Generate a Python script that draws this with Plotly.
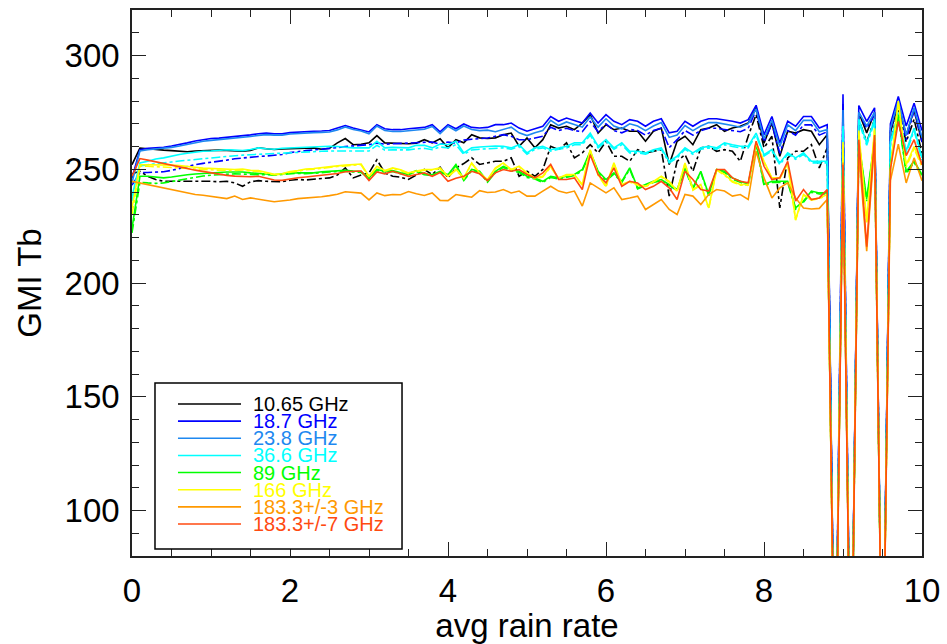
import numpy as np
import plotly.graph_objects as go

# bin centres of the average rain rate
rain_rate = np.round(np.arange(0, 101) * 0.1, 1)

# GMI brightness temperatures (K) per rain-rate bin; 0 marks empty bins
tb_10v = [252, 259.3, 259.0, 258.6, 258.4, 258.2, 257.8, 257.7, 258.0, 258.2, 258.5, 258.4, 258.3, 258.2, 257.9, 258.3,
          259.4, 259.0, 258.7, 258.9, 259.1, 259.0, 259.3, 259.4, 258.8, 259.2, 261.6, 263.5, 260.8, 261.0, 261.6, 264.8,
          261.6, 261.5, 261.6, 261.2, 261.5, 263.0, 261.6, 263.4, 259.4, 263.0, 261.6, 265.2, 263.8, 263.5, 263.8,
          265.2, 265.9, 260.1, 263.7, 259.4, 263.0, 269.6, 268.1, 268.9, 267.4, 270.3, 274.0, 265.9, 269.6, 267.4, 268.1,
          266.7, 266.7, 262.3, 266.7, 268.1, 252.1, 262.3, 264.5, 260.8, 267.4, 268.1, 269.6, 266.7, 268.1, 268.9, 270.3,
          276.9, 261.5, 270.3, 255.7, 266.7, 265.9, 267.4, 266.7, 260.8, 265.2,
          0, 270, 0, 275, 266, 275, 0, 266, 279, 265, 276, 262]
tb_10h = [248, 249.1, 246.9, 245.5, 244.7, 244.7, 244.9, 244.9, 244.7, 244.7, 244.7, 244.5, 244.7, 244.0, 242.5, 244.5,
          245.0, 244.7, 244.5, 244.5, 245.2, 245.5, 245.3, 245.5, 245.8, 246.2, 247.5, 250.6, 246.2, 247.5, 248.4, 254.2,
          248.4, 246.9, 246.5, 245.5, 247.5, 249.9, 247.7, 250.9, 246.2, 250.6, 252.5, 255.0, 252.1, 252.8, 253.5,
          253.5, 255.0, 246.9, 249.1, 246.9, 249.9, 260.1, 258.6, 261.6, 255.0, 257.2, 260.8, 257.2, 262.3, 255.7, 255.7,
          253.5, 258.6, 257.2, 257.9, 258.6, 238.2, 253.5, 256.4, 249.1, 259.4, 260.1, 257.9, 258.6, 257.9, 253.5, 264.5,
          274.0, 259.4, 264.5, 233.0, 255.0, 257.9, 257.9, 260.8, 250.6, 259.4,
          0, 266, 0, 272, 262, 272, 0, 262, 276, 262, 272, 257]
tb_19v = [246, 258.6, 259.2, 259.4, 259.7, 260.2, 260.8, 261.6, 262.4, 263.0, 263.5, 263.7, 264.0, 264.3, 264.6, 265.1,
          265.6, 265.9, 265.6, 265.6, 266.1, 266.4, 266.5, 266.7, 266.8, 267.0, 268.1, 269.2, 268.1, 267.4, 266.4, 269.6,
          267.8, 267.4, 267.4, 267.8, 268.1, 268.4, 269.6, 266.4, 269.6, 267.8, 269.9, 268.4, 268.1, 268.4, 269.6,
          269.6, 270.3, 268.1, 266.7, 267.8, 268.9, 273.2, 271.1, 272.5, 271.4, 270.3, 274.7, 270.3, 274.0, 271.1, 269.6,
          271.8, 271.1, 268.9, 271.1, 272.2, 266.0, 266.7, 271.1, 268.9, 271.1, 272.2, 272.2, 271.8, 271.1, 270.3, 271.8,
          278.1, 265.2, 273.2, 261.6, 271.1, 268.9, 273.2, 273.2, 268.1, 269.6,
          0, 283, 0, 278, 271, 277, 0, 270, 282, 269, 279, 267]
tb_19h = [243, 248.5, 248.6, 248.6, 248.9, 249.5, 250.4, 251.2, 252.0, 252.6, 253.0, 253.4, 254.0, 254.6, 255.0, 255.3,
          255.6, 255.8, 256.0, 256.5, 257.3, 257.9, 258.2, 258.5, 258.8, 259.0, 259.5, 260.0, 260.2, 260.5, 260.8, 261.5,
          261.0, 261.2, 261.3, 261.5, 261.5, 261.8, 262.0, 261.0, 262.0, 261.5, 262.8, 263.2, 263.5, 263.7, 264.5,
          265.2, 264.5, 263.0, 263.0, 263.7, 264.5, 268.5, 267.0, 268.0, 267.0, 266.5, 271.0, 266.5, 270.0, 267.0, 266.0,
          267.5, 267.0, 265.0, 267.0, 268.0, 259.5, 263.0, 267.0, 265.0, 267.0, 268.0, 268.0, 267.5, 267.0, 266.5, 268.0,
          276.0, 262.0, 270.0, 257.0, 267.0, 265.0, 269.5, 269.5, 265.0, 266.5,
          0, 279, 0, 275, 268, 274, 0, 267, 280, 263, 276, 262]
tb_23v = [244, 258.0, 258.6, 258.9, 259.2, 259.6, 260.2, 261.0, 261.7, 262.3, 262.7, 263.0, 263.3, 263.6, 264.0, 264.4,
          264.9, 265.2, 265.0, 265.0, 265.5, 265.8, 265.9, 266.1, 266.2, 266.4, 267.3, 268.6, 267.5, 266.8, 265.6, 269.0,
          267.0, 266.6, 266.6, 267.0, 267.3, 267.6, 268.8, 265.6, 268.9, 266.9, 269.0, 267.5, 267.0, 267.2, 266.5,
          267.5, 268.5, 266.0, 264.8, 266.0, 267.0, 271.5, 269.2, 270.8, 269.5, 268.5, 273.0, 268.5, 272.2, 269.0, 267.8,
          270.0, 269.0, 267.0, 269.0, 270.5, 264.0, 265.0, 269.2, 267.0, 269.0, 270.5, 270.5, 270.0, 269.2, 268.5, 270.0,
          276.5, 263.5, 271.5, 260.0, 269.5, 267.0, 271.5, 271.5, 266.5, 267.5,
          0, 276, 0, 275, 269, 275, 0, 268, 280, 265, 277, 264]
tb_37v = [238, 252.8, 253.5, 254.5, 255.0, 255.8, 256.5, 257.0, 257.6, 257.9, 258.0, 258.3, 258.6, 258.4, 258.2, 258.7,
          259.4, 259.0, 258.8, 259.2, 259.4, 259.6, 259.6, 259.7, 260.0, 260.1, 260.0, 259.6, 259.4, 259.4, 259.4, 262.3,
          259.4, 259.6, 259.4, 259.4, 260.5, 260.5, 259.4, 261.1, 260.8, 262.3, 257.2, 259.4, 259.8, 260.1, 260.2,
          260.1, 259.4, 260.8, 257.2, 259.4, 260.1, 258.6, 259.4, 260.1, 261.6, 261.6, 265.9, 260.1, 263.0, 259.4, 261.6,
          257.9, 257.9, 257.2, 258.6, 259.4, 253.5, 255.7, 259.4, 257.2, 259.4, 260.1, 259.4, 261.6, 260.8, 260.1, 260.1,
          265.9, 256.4, 258.6, 252.8, 257.2, 255.0, 257.2, 253.5, 253.5, 253.5,
          0, 269, 0, 272, 261.5, 272, 0, 262, 275, 258, 268, 255]
tb_37h = [236, 251.5, 252.0, 252.5, 252.8, 253.2, 253.6, 254.0, 254.3, 254.6, 255.0, 255.3, 255.6, 256.0, 256.2, 256.4,
          256.6, 256.8, 257.0, 257.2, 257.4, 257.6, 257.7, 257.8, 257.9, 258.0, 258.0, 258.2, 258.3, 258.3, 258.0, 260.5,
          258.4, 258.5, 258.4, 258.5, 259.0, 259.2, 258.6, 259.8, 259.4, 260.8, 256.5, 258.5, 258.8, 259.0, 259.2,
          259.4, 258.8, 260.0, 256.6, 258.8, 259.4, 258.0, 258.8, 259.4, 260.8, 260.8, 265.0, 259.4, 262.2, 258.8, 260.8,
          257.2, 257.2, 256.6, 258.0, 258.8, 252.8, 255.0, 258.8, 256.6, 258.8, 259.4, 258.8, 260.8, 260.0, 259.4, 259.4,
          265.0, 255.8, 258.0, 252.0, 256.6, 254.4, 256.6, 252.8, 252.8, 252.8,
          0, 268, 0, 271, 260.5, 271, 0, 261, 274, 257, 267, 254]
tb_89v = [224, 246.9, 246.9, 246.5, 246.2, 246.6, 247.2, 247.6, 247.9, 248.2, 248.4, 248.7, 248.8, 248.8, 248.8, 248.4,
          248.0, 247.9, 247.6, 248.0, 248.4, 248.4, 248.4, 248.4, 248.9, 249.2, 249.4, 249.5, 249.2, 249.0, 246.2, 249.9,
          249.1, 249.4, 248.4, 248.0, 249.4, 248.0, 247.6, 249.1, 247.6, 252.1, 245.5, 249.9, 249.1, 244.7, 249.1,
          251.3, 249.9, 249.1, 246.9, 246.2, 244.7, 246.9, 246.2, 246.9, 247.7, 249.9, 257.9, 249.1, 245.5, 248.4, 244.7,
          250.6, 241.8, 243.3, 244.7, 245.5, 243.3, 241.1, 250.6, 241.8, 249.1, 238.9, 249.9, 249.1, 246.2, 244.7, 243.3,
          261.6, 243.3, 244.7, 244.7, 244.7, 233.0, 236.0, 240.4, 239.6, 239.6,
          0, 257, 0, 262, 237, 263, 0, 252, 274, 249, 253.5, 247.7]
tb_89h = [222, 244.3, 244.0, 243.8, 244.0, 244.6, 245.3, 246.0, 246.5, 247.0, 247.4, 247.7, 247.9, 248.0, 247.9, 247.6,
          247.6, 247.6, 247.4, 247.7, 248.0, 248.2, 248.0, 248.1, 248.5, 248.8, 249.0, 249.1, 248.8, 248.6, 245.9, 249.5,
          248.7, 249.0, 248.0, 247.6, 249.0, 247.6, 247.2, 248.7, 247.2, 251.6, 245.0, 249.4, 248.6, 244.3, 248.6,
          250.8, 249.4, 248.6, 246.4, 245.7, 244.2, 246.4, 245.7, 246.4, 247.2, 249.4, 257.3, 248.6, 245.0, 247.9, 244.2,
          250.0, 241.3, 242.8, 244.2, 245.0, 242.8, 240.6, 250.0, 241.3, 248.6, 238.4, 249.4, 248.6, 245.7, 244.2, 242.8,
          261.0, 242.8, 244.2, 244.2, 244.2, 232.5, 235.5, 239.9, 239.1, 239.1,
          0, 256, 0, 261, 236, 262, 0, 251, 273, 248, 253, 247]
tb_166v = [233, 252.0, 252.0, 252.0, 252.0, 251.8, 251.6, 251.1, 250.9, 250.5, 250.3, 250.0, 249.8, 249.9, 250.1, 249.5,
           249.4, 248.6, 247.8, 248.0, 249.0, 249.4, 250.1, 250.3, 250.8, 251.1, 251.5, 251.8, 252.0, 252.3, 246.9, 251.3,
           249.5, 250.6, 249.8, 248.4, 249.2, 249.9, 249.9, 250.6, 246.9, 249.9, 246.2, 252.8, 248.4, 245.5, 250.6,
           252.8, 249.9, 251.3, 248.4, 246.2, 246.9, 251.3, 246.2, 247.7, 247.7, 243.3, 258.6, 247.7, 242.5, 252.8, 243.3,
           244.7, 243.3, 242.5, 244.7, 246.9, 244.7, 240.4, 252.8, 241.1, 243.3, 233.0, 249.9, 247.7, 244.7, 243.3, 243.3,
           261.6, 253.5, 246.2, 246.2, 252.8, 227.9, 238.9, 236.7, 237.4, 238.9,
           0, 262, 0, 267, 227, 268, 0, 250, 280, 252, 260, 252]
tb_166h = [230, 251.3, 251.3, 251.2, 251.0, 250.8, 250.6, 250.3, 250.1, 249.9, 249.7, 249.5, 249.4, 249.5, 249.7, 249.2,
           249.0, 248.3, 247.6, 247.8, 248.7, 249.1, 249.8, 250.0, 250.5, 250.8, 251.2, 251.5, 251.7, 252.0, 246.6, 251.0,
           249.2, 250.3, 249.5, 248.1, 248.9, 249.6, 249.6, 250.3, 246.6, 249.6, 245.9, 252.5, 248.1, 245.2, 250.3,
           252.5, 249.6, 251.0, 248.1, 245.9, 246.6, 251.0, 245.9, 247.4, 247.4, 243.0, 258.3, 247.4, 242.2, 252.5, 243.0,
           244.4, 243.0, 242.2, 244.4, 246.6, 244.4, 240.1, 252.5, 240.8, 243.0, 232.7, 249.6, 247.4, 244.4, 243.0, 243.0,
           261.3, 253.2, 245.9, 245.9, 252.5, 227.6, 238.6, 236.4, 237.1, 238.6,
           0, 261, 0, 266, 226, 267, 0, 249, 279, 251, 259, 251]
tb_183_3 = [244.7, 244.0, 243.3, 242.5, 241.8, 241.1, 240.4, 239.6, 238.9, 238.6, 238.2, 237.7, 237.1, 238.2, 236.7, 237.4,
            236.7, 236.3, 235.7, 236.0, 236.5, 237.1, 237.3, 237.4, 237.9, 238.4, 239.0, 240.1, 239.8, 239.5, 236.5, 239.6,
            238.4, 238.9, 238.8, 240.2, 239.2, 238.5, 239.6, 236.3, 236.2, 238.9, 238.3, 237.7, 240.6, 239.8, 240.0,
            241.1, 239.6, 240.4, 238.2, 238.2, 240.4, 242.5, 240.4, 239.6, 240.4, 233.8, 244.0, 241.8, 239.6, 241.8, 236.7,
            237.4, 238.2, 232.3, 234.5, 236.7, 232.3, 230.1, 238.9, 238.2, 234.5, 238.9, 241.1, 240.4, 238.2, 238.9, 236.7,
            257.9, 246.2, 237.4, 241.8, 244.0, 237.4, 233.0, 232.5, 232.8, 236.7,
            0, 253, 0, 258, 214, 262, 0, 245, 261, 244, 255, 245]
tb_183_7 = [247, 254.7, 254.0, 253.2, 252.5, 251.7, 251.0, 250.3, 249.6, 249.0, 248.4, 247.9, 247.3, 247.0, 246.7, 246.7,
            246.9, 246.0, 245.3, 245.1, 245.8, 246.3, 246.6, 246.9, 247.3, 247.7, 248.1, 248.9, 249.1, 249.2, 245.0, 248.8,
            248.0, 249.1, 248.0, 246.9, 247.7, 248.4, 246.9, 248.6, 244.7, 246.0, 246.9, 249.1, 248.0, 245.0, 248.4,
            249.9, 249.1, 249.9, 247.7, 246.2, 248.4, 252.1, 245.5, 245.5, 246.2, 241.1, 256.4, 247.7, 244.0, 250.6, 242.5,
            244.7, 244.0, 241.1, 242.5, 244.7, 241.8, 236.7, 249.1, 245.5, 241.1, 240.4, 249.9, 249.9, 246.2, 244.7, 244.0,
            262.3, 251.3, 245.5, 246.2, 253.5, 236.0, 241.1, 236.7, 237.4, 241.1,
            0, 252, 0, 263, 216, 265, 0, 250, 271, 256, 263, 252]

channel_names = ["10.65 GHz", "18.7 GHz", "23.8 GHz", "36.6 GHz", "89 GHz", "166 GHz",
                 "183.3+/-3 GHz", "183.3+/-7 GHz"]
channel_colors = ["#000000", "#0000FF", "#1E88F0", "#00FFFF", "#00FF00", "#FFFF00", "#FF9900", "#FF4A10"]
v_series = [tb_10v, tb_19v, tb_23v, tb_37v, tb_89v, tb_166v, tb_183_3, tb_183_7]
h_series = [tb_10h, tb_19h, None, tb_37h, tb_89h, tb_166h, None, None]

FONT = "Liberation Sans"

fig = go.Figure()
for name, color, tv, th in zip(channel_names, channel_colors, v_series, h_series):
    fig.add_trace(go.Scatter(x=rain_rate, y=tv, mode="lines", name=name,
                             line=dict(color=color, width=1.6), showlegend=False))
    if th is not None:
        fig.add_trace(go.Scatter(x=rain_rate, y=th, mode="lines", name=name + " H",
                                 line=dict(color=color, width=1.6, dash="dashdot"), showlegend=False))

# legend box drawn in paper coordinates
box_x0, box_x1, box_y0, box_y1 = 0.0291, 0.3418, 0.0128, 0.3168
fig.add_shape(type="rect", xref="paper", yref="paper", x0=box_x0, x1=box_x1, y0=box_y0, y1=box_y1,
              line=dict(color="black", width=1.5), fillcolor="white", layer="above")
row_top, row_step = 0.2784, 0.0314
for k, (name, color) in enumerate(zip(channel_names, channel_colors)):
    yk = row_top - k * row_step
    fig.add_shape(type="line", xref="paper", yref="paper", x0=0.0582, x1=0.138, y0=yk, y1=yk,
                  line=dict(color=color, width=1.6), layer="above")
    fig.add_annotation(xref="paper", yref="paper", x=0.1505, y=yk, text=name, showarrow=False,
                       xanchor="left", yanchor="middle", font=dict(family=FONT, size=20, color=color))

axis_common = dict(showline=True, linecolor="#222222", linewidth=1.6, mirror="ticks",
                   ticks="inside", ticklen=14, tickwidth=1.2, tickcolor="#222222",
                   showgrid=False, zeroline=False, automargin=False,
                   tickfont=dict(family=FONT, size=33, color="black"),
                   title_font=dict(family=FONT, size=33, color="black"))

fig.update_xaxes(range=[0, 10], dtick=2, tick0=0, title_text="avg rain rate", title_standoff=4,
                 ticklabelstandoff=5,
                 minor=dict(dtick=0.5, ticks="inside", ticklen=7, tickcolor="#222222", tickwidth=1.2),
                 **axis_common)
fig.update_yaxes(range=[80, 320], tickvals=[100, 150, 200, 250, 300], title_text="GMI Tb", title_standoff=13,
                 ticklabelstandoff=4,
                 minor=dict(dtick=10, ticks="inside", ticklen=7, tickcolor="#222222", tickwidth=1.2),
                 **axis_common)

fig.update_layout(width=947, height=644, margin=dict(l=132, r=25, t=10, b=88, autoexpand=False),
                  plot_bgcolor="white", paper_bgcolor="white", showlegend=False)

fig.write_html("out.html")
